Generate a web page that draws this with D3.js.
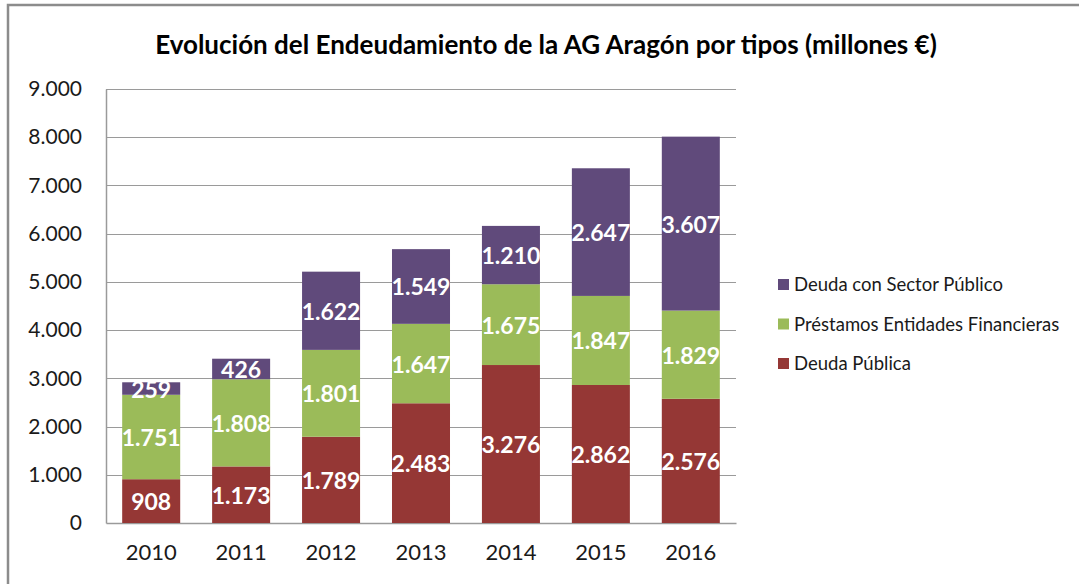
<!DOCTYPE html>
<html>
<head>
<meta charset="utf-8">
<script src="https://cdn.jsdelivr.net/npm/d3@7"></script>
<style>
  body { margin: 0; background: #fff; }
  text { font-family: Lato, "Open Sans", sans-serif; }
</style>
</head>
<body>
<div class="chart"></div>
<script>
// data
var years = ['2010', '2011', '2012', '2013', '2014', '2015', '2016'];
var deudaPublica = [908, 1173, 1789, 2483, 3276, 2862, 2576];
var prestamos = [1751, 1808, 1801, 1647, 1675, 1847, 1829];
var sectorPublico = [259, 426, 1622, 1549, 1210, 2647, 3607];
var seriesNames = ['Deuda Pública', 'Préstamos Entidades Financieras', 'Deuda con Sector Público'];
var seriesColors = ['#953735', '#9bbb59', '#604a7b'];
var yTicks = [0, 1000, 2000, 3000, 4000, 5000, 6000, 7000, 8000, 9000];

var width = 1079,
	height = 584,
	margin = {top: 89, left: 106, bottom: 61, right: 343};

var svg = d3.select('.chart').append('svg')
		.attr('width', width)
		.attr('height', height);

// outer frame (only left and top edges show)
svg.append('rect')
	.attr('x', 8).attr('y', 5)
	.attr('width', width + 20).attr('height', height + 20)
	.attr('fill', 'none')
	.attr('stroke', '#8c8c8c')
	.attr('stroke-width', 2.5);

svg.append('text')
	.attr('x', 546).attr('y', 54)
	.attr('text-anchor', 'middle')
	.style('font-size', '26px')
	.style('font-weight', 'bold')
	.attr('fill', '#000')
	.text('Evolución del Endeudamiento de la AG Aragón por tipos (millones €)');

var rows = years.map(function(y, i) {
	return {year: y, a: deudaPublica[i], b: prestamos[i], c: sectorPublico[i]};
});
var stack = d3.stack().keys(['a', 'b', 'c'])(rows);

var x = d3.scaleBand()
		.domain(years)
		.range([margin.left, width - margin.right])
		.paddingInner(0.355)
		.paddingOuter(0.18);

var y = d3.scaleLinear()
		.domain([0, 9000])
		.range([height - margin.bottom, margin.top]);

var fmt = function(v) {
	return d3.format(',')(v).replace(/,/g, '.');
};

// gridlines
svg.append('g').selectAll('line')
	.data(yTicks.slice(1))
	.enter().append('line')
	.attr('x1', margin.left).attr('x2', width - margin.right)
	.attr('y1', function(d) { return Math.round(y(d)) + 0.5; })
	.attr('y2', function(d) { return Math.round(y(d)) + 0.5; })
	.attr('stroke', '#9a9a9a')
	.attr('stroke-width', 1.2);

// y axis
var yAxis = svg.append('g')
		.attr('transform', 'translate(' + margin.left + ',0)')
		.call(d3.axisLeft(y).tickValues(yTicks).tickSize(0).tickPadding(24).tickFormat(fmt));
yAxis.select('.domain').attr('stroke', '#9a9a9a').attr('stroke-width', 1.5);
yAxis.selectAll('text')
	.style('font-size', '21px')
	.attr('fill', '#1a1a1a');

// x axis
var xAxis = svg.append('g')
		.attr('transform', 'translate(0,' + (height - margin.bottom) + ')')
		.call(d3.axisBottom(x).tickSize(0).tickPadding(21));
xAxis.select('.domain').attr('stroke', '#9a9a9a').attr('stroke-width', 1.5);
xAxis.selectAll('text')
	.style('font-size', '22px')
	.attr('fill', '#1a1a1a');

// bars
var layers = svg.append('g').selectAll('.layer')
		.data(stack)
		.enter().append('g')
		.attr('class', 'layer')
		.attr('fill', function(d, i) { return seriesColors[i]; });

layers.selectAll('rect')
	.data(function(d) { return d; })
	.enter().append('rect')
	.attr('x', function(d) { return x(d.data.year); })
	.attr('width', x.bandwidth())
	.attr('y', function(d) { return y(d[1]); })
	.attr('height', function(d) { return y(d[0]) - y(d[1]); });

layers.selectAll('text')
	.data(function(d) { return d; })
	.enter().append('text')
	.attr('x', function(d) { return x(d.data.year) + x.bandwidth() / 2; })
	.attr('y', function(d) { return (y(d[0]) + y(d[1])) / 2 + 9; })
	.attr('text-anchor', 'middle')
	.attr('fill', '#fff')
	.style('font-size', '23px')
	.style('font-weight', 'bold')
	.text(function(d) { return fmt(d[1] - d[0]); });

// legend, top entry is the top series
var legendOrder = [2, 1, 0];
var legend = svg.append('g').selectAll('g')
		.data(legendOrder)
		.enter().append('g')
		.attr('transform', function(d, i) { return 'translate(778,' + (279 + i * 39.5) + ')'; });
legend.append('rect')
	.attr('width', 11).attr('height', 11)
	.attr('fill', function(d) { return seriesColors[d]; });
legend.append('text')
	.attr('x', 16).attr('y', 12)
	.style('font-size', '18.5px')
	.attr('fill', '#1a1a1a')
	.text(function(d) { return seriesNames[d]; });
</script>
</body>
</html>
